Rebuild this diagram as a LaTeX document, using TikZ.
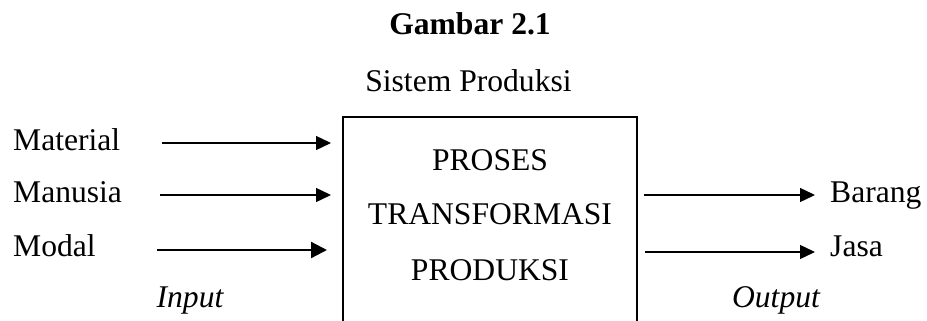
\documentclass[tikz,border=0pt]{standalone}
\usepackage{fontspec}
\setmainfont{Liberation Serif}
\usetikzlibrary{arrows.meta}
\begin{document}
\begin{tikzpicture}[x=1pt,y=-1pt,
  txt/.style={anchor=base,inner sep=0pt,font=\fontsize{31.6}{38}\selectfont},
  lbl/.style={txt,anchor=base west},
  flow/.style={line width=1.4pt,-{Triangle[length=15pt,width=14pt]}},
  boxline/.style={line width=2.3pt}]
\useasboundingbox (0,0) rectangle (927,321);

% heading
\node[txt,font=\fontsize{31.6}{38}\selectfont\bfseries] (title) at (470,35) {Gambar 2.1};
\node[txt] (subtitle) at (468.5,92) {Sistem Produksi};

% transformation box, open at the bottom
\coordinate (boxBL) at (343,330);
\coordinate (boxTL) at (343,117);
\coordinate (boxTR) at (637,117);
\coordinate (boxBR) at (637,330);
\draw[boxline] (boxBL) -- (boxTL) -- (boxTR) -- (boxBR);
\node[txt] (proses) at (490,170) {PROSES};
\node[txt] (transf) at (490,224) {TRANSFORMASI};
\node[txt] (produksi) at (490,280) {PRODUKSI};

% inputs
\node[lbl] (material) at (13,150) {Material};
\node[lbl] (manusia) at (13,202) {Manusia};
\node[lbl] (modal) at (13,256) {Modal};
\node[txt,font=\fontsize{31.6}{38}\selectfont\itshape] (input) at (190,307) {Input};
\coordinate (matS) at (162,143);
\coordinate (matE) at (331,143);
\coordinate (manS) at (160,195);
\coordinate (manE) at (331,195);
\coordinate (modS) at (157,250);
\coordinate (modE) at (327,250);
\draw[flow] (matS) -- (matE);
\draw[flow] (manS) -- (manE);
\draw[flow,line width=2.3pt,-{Triangle[length=16pt,width=16pt]}] (modS) -- (modE);

% outputs
\node[lbl] (barang) at (830,202) {Barang};
\node[lbl] (jasa) at (830,256) {Jasa};
\node[txt,font=\fontsize{31.6}{38}\selectfont\itshape] (output) at (776,307) {Output};
\coordinate (barS) at (644,195);
\coordinate (barE) at (815,195);
\coordinate (jasS) at (645,252);
\coordinate (jasE) at (815,252);
\draw[flow] (barS) -- (barE);
\draw[flow] (jasS) -- (jasE);
\end{tikzpicture}
\end{document}
